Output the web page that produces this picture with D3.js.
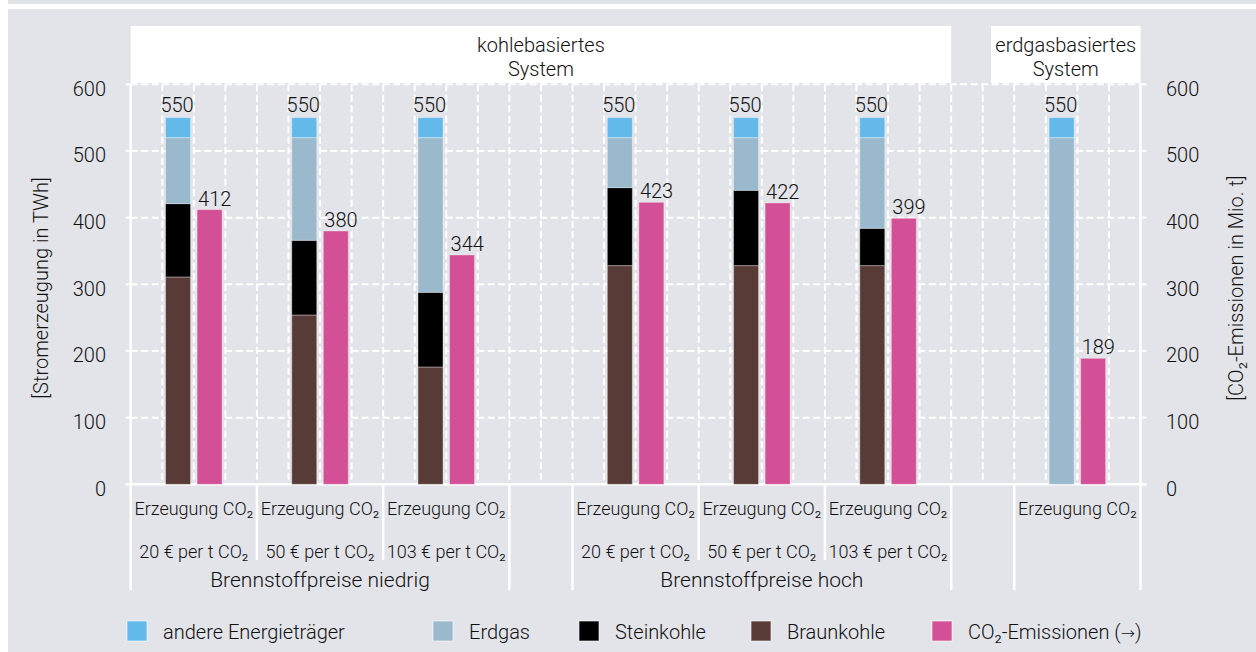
<!DOCTYPE html>
<html><head><meta charset="utf-8">
<script src="https://cdn.jsdelivr.net/npm/d3@7"></script>
<style>
body{margin:0;background:#fff}
text{font-family:Roboto,"Noto Sans",sans-serif;font-weight:300;fill:#111}
</style></head>
<body><svg id="c" width="1256" height="652"></svg>
<script>
// ---------- data ----------
const scenarios = ["20 € per t CO₂","50 € per t CO₂","103 € per t CO₂","20 € per t CO₂","50 € per t CO₂","103 € per t CO₂",""];
const fuelPrices = ["Brennstoffpreise niedrig","Brennstoffpreise hoch"];
const systems = [["kohlebasiertes","System"],["erdgasbasiertes","System"]];
const braunkohle = [311,254,176,328,328,328,0];
const steinkohle = [110,112,112,117,113,56,0];
const erdgas     = [99,154,232,75,79,136,520];
const andere     = [30,30,30,30,30,30,30];
const co2        = [412,380,344,423,422,399,189];
const barLabel   = "Erzeugung CO₂";
const seriesNames = ["andere Energieträger","Erdgas","Steinkohle","Braunkohle","CO₂-Emissionen (→)"];
const yTicks = [0,100,200,300,400,500,600];
const yTitleLeft = "[Stromerzeugung in TWh]";
const yTitleRight = "[CO₂-Emissionen in Mio. t]";

// ---------- style / layout ----------
const colors = {andere:"#63b9e9", erdgas:"#9bb9cc", stein:"#000000", braun:"#583b37", co2:"#d45096"};
const layout = ["g","g","g","s","g","g","g","s","g"]; // g = 4 slots, s = 2 slots
const W = 1256, H = 652;
const FS = 20;
const svg = d3.select("#c");

svg.append("rect").attr("x",8).attr("y",0).attr("width",W-8).attr("height",H).attr("fill","#e3e4e9");
svg.append("rect").attr("x",8).attr("y",4).attr("width",W-8).attr("height",5).attr("fill","#fff");

// slot positions
const groupStart = []; let pos = 0;
layout.forEach(l => { if (l === "g") { groupStart.push(pos); pos += 4; } else { pos += 2; } });
const nSlots = pos;
const x = d3.scaleBand().domain(d3.range(nSlots)).range([130.7,1140.5]).padding(0);
const bw = x.bandwidth();
const y = d3.scaleLinear().domain([0,600]).range([484.3,84.3]);
const barW = 25;
const slotX = s => 130.7 + s*bw;

// header boxes
svg.append("rect").attr("x",slotX(0)).attr("y",26).attr("width",slotX(26)-slotX(0)).attr("height",57).attr("fill","#fff");
svg.append("rect").attr("x",991).attr("y",26).attr("width",slotX(32)-991).attr("height",57).attr("fill","#fff");
const hdr = [[(slotX(0)+slotX(26))/2, systems[0]], [(991+slotX(32))/2, systems[1]]];
hdr.forEach(([cx,lines]) => {
  lines.forEach((t,i) => svg.append("text").attr("x",cx).attr("y",52+i*24).attr("text-anchor","middle")
    .attr("font-size",FS).text(t));
});

// grid
const grid = svg.append("g");
yTicks.filter(v => v>0).forEach(v => {
  grid.append("line").attr("x1",slotX(0)).attr("x2",slotX(nSlots)).attr("y1",y(v)).attr("y2",y(v))
    .attr("stroke","#fff").attr("stroke-width",2).attr("stroke-dasharray","7 3.5");
});
d3.range(1,nSlots).forEach(s => {
  grid.append("line").attr("x1",slotX(s)).attr("x2",slotX(s)).attr("y1",y(600)).attr("y2",y(0))
    .attr("stroke","#fff").attr("stroke-width",2).attr("stroke-dasharray","7 3.5");
});
yTicks.forEach(v => {
  grid.append("line").attr("x1",slotX(0)-5).attr("x2",slotX(0)).attr("y1",y(v)).attr("y2",y(v)).attr("stroke","#fff").attr("stroke-width",2);
  grid.append("line").attr("x1",slotX(nSlots)).attr("x2",slotX(nSlots)+6).attr("y1",y(v)).attr("y2",y(v)).attr("stroke","#fff").attr("stroke-width",2);
});
grid.append("line").attr("x1",slotX(0)-5).attr("x2",slotX(nSlots)+6).attr("y1",y(0)).attr("y2",y(0)).attr("stroke","#fff").attr("stroke-width",2.5);

const longSeps = [0,12,14,26,28,32];
const shortSeps = [4,8,18,22];
longSeps.forEach(s => {
  const top = (s===0||s===32) ? y(600) : y(0);
  grid.append("line").attr("x1",slotX(s)).attr("x2",slotX(s)).attr("y1",top).attr("y2",590).attr("stroke","#fff").attr("stroke-width",2.5);
});
shortSeps.forEach(s => {
  grid.append("line").attr("x1",slotX(s)).attr("x2",slotX(s)).attr("y1",y(0)).attr("y2",560).attr("stroke","#fff").attr("stroke-width",2.5);
});

// stacked bars
const table = braunkohle.map((b,i) => ({braun:b, stein:steinkohle[i], erdgas:erdgas[i], andere:andere[i], co2:co2[i], i}));
const keys = ["braun","stein","erdgas","andere"];
const stack = d3.stack().keys(keys)(table);
const bars = svg.append("g");
stack.forEach(layer => {
  bars.selectAll(null).data(layer).join("rect")
    .attr("x", d => x(groupStart[d.data.i]+1) + (bw-barW)/2)
    .attr("width", barW)
    .attr("y", d => y(d[1]))
    .attr("height", d => Math.max(0, y(d[0]) - y(d[1])))
    .attr("fill", colors[layer.key])
    .attr("stroke","rgba(255,255,255,0.35)").attr("stroke-width",1);
});
bars.selectAll(null).data(table).join("text")
  .attr("x", d => x(groupStart[d.i]+1) + bw/2 - 1)
  .attr("y", d => y(d.braun+d.stein+d.erdgas+d.andere) - 6)
  .attr("text-anchor","middle").attr("font-size",FS)
  .text(d => d.braun+d.stein+d.erdgas+d.andere);
bars.selectAll(null).data(table).join("rect")
  .attr("x", d => x(groupStart[d.i]+2) + (bw-barW)/2)
  .attr("width", barW)
  .attr("y", d => y(d.co2))
  .attr("height", d => y(0)-y(d.co2))
  .attr("fill", colors.co2)
  .attr("stroke","rgba(255,255,255,0.35)").attr("stroke-width",1);
bars.selectAll(null).data(table).join("text")
  .attr("x", d => x(groupStart[d.i]+2) + (bw-barW)/2 + 1)
  .attr("y", d => y(d.co2) - 4)
  .attr("font-size",FS)
  .text(d => d.co2);

// y tick labels
yTicks.forEach(v => {
  svg.append("text").attr("x",106).attr("y",y(v)+4.5).attr("dy","0.35em").attr("text-anchor","end").attr("font-size",FS).text(v);
  svg.append("text").attr("x",1166).attr("y",y(v)+4.5).attr("dy","0.35em").attr("font-size",FS).text(v);
});
svg.append("text").attr("transform","translate(48,288) rotate(-90)").attr("text-anchor","middle").attr("font-size",FS).text(yTitleLeft);
svg.append("text").attr("transform","translate(1243,288) rotate(-90)").attr("text-anchor","middle").attr("font-size",FS).text(yTitleRight);

// category labels
table.forEach((d,i) => {
  const cx = slotX(groupStart[i]+2);
  svg.append("text").attr("x",cx).attr("y",515).attr("text-anchor","middle").attr("font-size",18).text(barLabel);
  if (scenarios[i]) svg.append("text").attr("x",cx).attr("y",558).attr("text-anchor","middle").attr("font-size",18).text(scenarios[i]);
});
fuelPrices.forEach((t,k) => {
  const a = groupStart[k*3], b = groupStart[k*3+2]+4;
  svg.append("text").attr("x",(slotX(a)+slotX(b))/2).attr("y",587).attr("text-anchor","middle").attr("font-size",21).text(t);
});

// legend
const legX = [127,433,579,751,932];
const legColors = [colors.andere, colors.erdgas, colors.stein, colors.braun, colors.co2];
seriesNames.forEach((n,i) => {
  svg.append("rect").attr("x",legX[i]).attr("y",621).attr("width",20).attr("height",20).attr("fill",legColors[i])
    .attr("stroke","rgba(255,255,255,0.6)").attr("stroke-width",1);
  const t = svg.append("text").attr("x",legX[i]+36).attr("y",639).attr("font-size",FS);
  // render arrow glyph with a font that has a full-size arrow
  n.split(/(→)/).forEach(part => {
    if (!part) return;
    const ts = t.append("tspan").text(part);
    if (part === "→") ts.attr("font-family","DejaVu Sans").attr("font-size",17);
  });
});
</script></body></html>
